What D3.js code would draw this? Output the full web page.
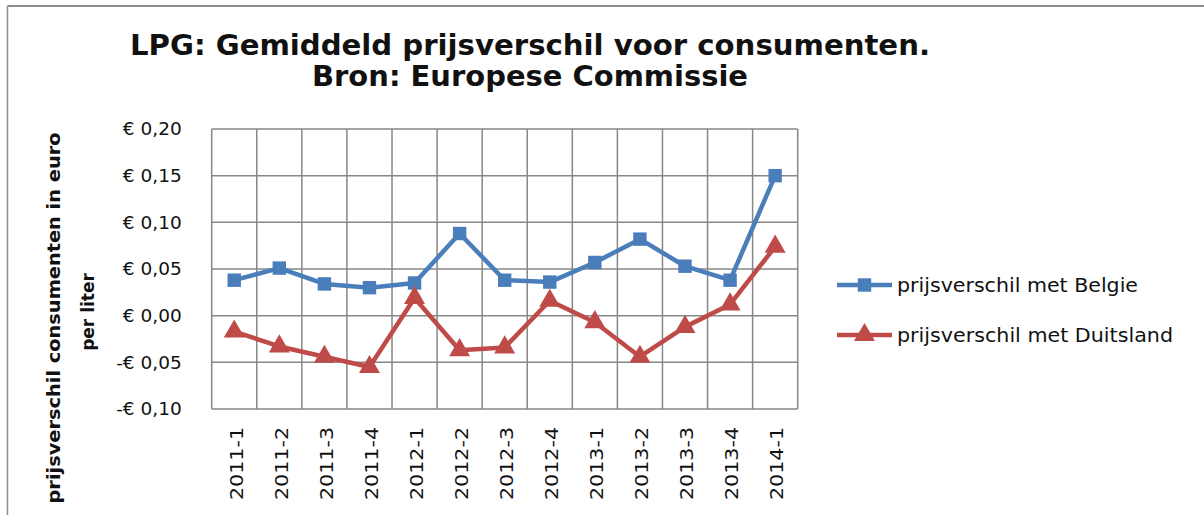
<!DOCTYPE html>
<html>
<head>
<meta charset="utf-8">
<script src="https://cdn.jsdelivr.net/npm/d3@7"></script>
<style>
  body { margin: 0; background: #fff; }
  svg { display: block; font-family: "DejaVu Sans", Verdana, sans-serif; }
</style>
</head>
<body>
<script>
const categories = ["2011-1","2011-2","2011-3","2011-4","2012-1","2012-2","2012-3","2012-4","2013-1","2013-2","2013-3","2013-4","2014-1"]
const belgie = [0.038, 0.051, 0.034, 0.030, 0.035, 0.088, 0.038, 0.036, 0.057, 0.082, 0.053, 0.038, 0.150]
const duitsland = [-0.017, -0.033, -0.044, -0.055, 0.019, -0.037, -0.034, 0.016, -0.007, -0.044, -0.012, 0.012, 0.074]
const yTicks = [-0.10, -0.05, 0, 0.05, 0.10, 0.15, 0.20]
const seriesNames = ["prijsverschil met Belgie", "prijsverschil met Duitsland"]

const width = 1204, height = 515
const plot = {left: 211.7, right: 797.7, top: 129, bottom: 409}

const svg = d3.select("body").append("svg")
    .attr("width", width)
    .attr("height", height)

// outer chart border (only top and left visible in the crop)
svg.append("line").attr("x1", 7.5).attr("x2", width).attr("y1", 6).attr("y2", 6)
    .attr("stroke", "#8c8c8c").attr("stroke-width", 2)
svg.append("line").attr("x1", 7.5).attr("x2", 7.5).attr("y1", 6).attr("y2", height)
    .attr("stroke", "#8c8c8c").attr("stroke-width", 1.5)

const x = d3.scaleBand().domain(categories).range([plot.left, plot.right]).padding(0)
const y = d3.scaleLinear().domain([-0.10, 0.20]).range([plot.bottom, plot.top])

const fmt = v => {
  const s = d3.format(".2f")(Math.abs(v)).replace(".", ",")
  return (v < -1e-9 ? "-" : "") + "€ " + s
}

// grid
const grid = svg.append("g").attr("stroke", "#878787").attr("stroke-width", 1.5)
grid.selectAll(".hg").data(yTicks).join("line")
    .attr("x1", plot.left).attr("x2", plot.right)
    .attr("y1", d => y(d)).attr("y2", d => y(d))
const xEdges = categories.map(c => x(c)).concat([plot.right])
grid.selectAll(".vg").data(xEdges).join("line")
    .attr("x1", d => d).attr("x2", d => d)
    .attr("y1", plot.top).attr("y2", plot.bottom)

// y axis labels
const yAxis = svg.append("g")
    .attr("transform", `translate(${plot.left - 30},0)`)
    .call(d3.axisLeft(y).tickValues(yTicks).tickFormat(fmt).tickSize(0))
yAxis.select(".domain").remove()
yAxis.selectAll("text")
    .attr("font-size", 18.5)
    .attr("font-family", "DejaVu Sans, Verdana, sans-serif")
    .attr("fill", "#111")
    .attr("x", 0)

// x axis labels
const xAxis = svg.append("g")
    .attr("transform", `translate(0,${plot.bottom})`)
    .call(d3.axisBottom(x).tickSize(0))
xAxis.select(".domain").remove()
xAxis.selectAll("text")
    .attr("font-size", 18)
    .attr("font-family", "DejaVu Sans, Verdana, sans-serif")
    .attr("fill", "#111")
    .attr("text-anchor", "end")
    .attr("dy", "0.35em")
    .attr("transform", "translate(2,18) rotate(-90)")
    .attr("x", 0).attr("y", 0)
    .attr("textLength", 73).attr("lengthAdjust", "spacingAndGlyphs")

// lines
const series = [
  {name: seriesNames[0], values: belgie, color: "#4a7ebb", marker: "square", len: 241},
  {name: seriesNames[1], values: duitsland, color: "#be4b48", marker: "triangle", len: 276}
]
const line = d3.line().x((d, i) => x(categories[i]) + x.bandwidth() / 2).y(d => y(d))

const symSquare = d3.symbol().type(d3.symbolSquare).size(180)
const symTri = d3.symbol().type(d3.symbolTriangle).size(190)

series.forEach(s => {
  svg.append("path").datum(s.values)
      .attr("d", line)
      .attr("fill", "none")
      .attr("stroke", s.color)
      .attr("stroke-width", 4.5)
      .attr("stroke-linejoin", "round")
  svg.selectAll(null).data(s.values).join("path")
      .attr("d", s.marker === "square" ? symSquare : symTri)
      .attr("transform", (d, i) => `translate(${x(categories[i]) + x.bandwidth() / 2},${y(d)})`)
      .attr("fill", s.color)
})

// legend
const legend = svg.append("g")
series.forEach((s, i) => {
  const ly = 285 + i * 50
  legend.append("line").attr("x1", 837).attr("x2", 892).attr("y1", ly).attr("y2", ly)
      .attr("stroke", s.color).attr("stroke-width", 4.5)
  legend.append("path")
      .attr("d", s.marker === "square" ? symSquare : symTri)
      .attr("transform", `translate(864.5,${ly})`)
      .attr("fill", s.color)
  legend.append("text").attr("x", 897).attr("y", ly).attr("dy", "0.35em")
      .attr("font-size", 19).attr("fill", "#111")
      .attr("textLength", s.len).attr("lengthAdjust", "spacingAndGlyphs")
      .text(s.name)
})

// title
svg.append("text").attr("x", 530).attr("y", 55)
    .attr("text-anchor", "middle").attr("font-size", 28).attr("font-weight", "bold")
    .attr("fill", "#111")
    .attr("textLength", 800).attr("lengthAdjust", "spacingAndGlyphs")
    .text("LPG: Gemiddeld prijsverschil voor consumenten.")
svg.append("text").attr("x", 530).attr("y", 86)
    .attr("text-anchor", "middle").attr("font-size", 28).attr("font-weight", "bold")
    .attr("fill", "#111")
    .attr("textLength", 436).attr("lengthAdjust", "spacingAndGlyphs")
    .text("Bron: Europese Commissie")

// y axis title
const yTitle = svg.append("g").attr("transform", "translate(0,318) rotate(-90)")
yTitle.append("text").attr("x", 0).attr("y", 60)
    .attr("text-anchor", "middle").attr("font-size", 17).attr("font-weight", "bold")
    .attr("fill", "#111")
    .attr("textLength", 371).attr("lengthAdjust", "spacingAndGlyphs")
    .text("prijsverschil consumenten in euro")
yTitle.append("text").attr("x", 6).attr("y", 94)
    .attr("text-anchor", "middle").attr("font-size", 17).attr("font-weight", "bold")
    .attr("fill", "#111")
    .text("per liter")
</script>
</body>
</html>
